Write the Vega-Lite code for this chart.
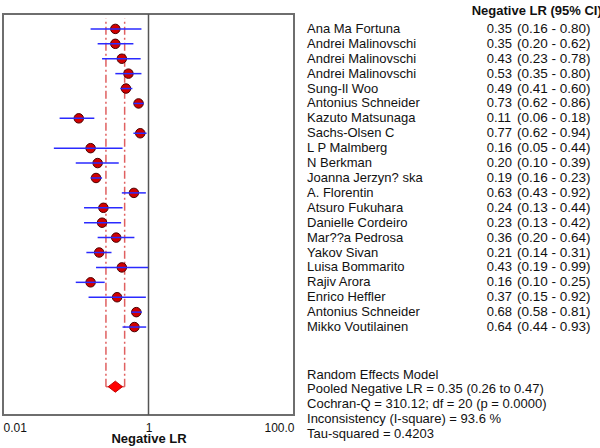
{
  "$schema": "https://vega.github.io/schema/vega-lite/v6.json",
  "autosize": {"type": "none"},
  "width": 291,
  "height": 401,
  "padding": {"left": 3, "top": 14, "right": 306, "bottom": 33},
  "background": "white",
  "config": {
    "view": {"stroke": "#6e6e6e", "strokeWidth": 2},
    "font": "Liberation Sans",
    "text": {"font": "Liberation Sans", "fontSize": 13, "color": "#111111"}
  },
  "datasets": {
    "studies": [
      {"row": 0, "name": "Ana Ma Fortuna", "lr": 0.35, "lo": 0.16, "hi": 0.80},
      {"row": 1, "name": "Andrei Malinovschi", "lr": 0.35, "lo": 0.20, "hi": 0.62},
      {"row": 2, "name": "Andrei Malinovschi", "lr": 0.43, "lo": 0.23, "hi": 0.78},
      {"row": 3, "name": "Andrei Malinovschi", "lr": 0.53, "lo": 0.35, "hi": 0.80},
      {"row": 4, "name": "Sung-Il Woo", "lr": 0.49, "lo": 0.41, "hi": 0.60},
      {"row": 5, "name": "Antonius Schneider", "lr": 0.73, "lo": 0.62, "hi": 0.86},
      {"row": 6, "name": "Kazuto Matsunaga", "lr": 0.11, "lo": 0.06, "hi": 0.18},
      {"row": 7, "name": "Sachs-Olsen C", "lr": 0.77, "lo": 0.62, "hi": 0.94},
      {"row": 8, "name": "L P Malmberg", "lr": 0.16, "lo": 0.05, "hi": 0.44},
      {"row": 9, "name": "N Berkman", "lr": 0.20, "lo": 0.10, "hi": 0.39},
      {"row": 10, "name": "Joanna Jerzyn? ska", "lr": 0.19, "lo": 0.16, "hi": 0.23},
      {"row": 11, "name": "A. Florentin", "lr": 0.63, "lo": 0.43, "hi": 0.92},
      {"row": 12, "name": "Atsuro Fukuhara", "lr": 0.24, "lo": 0.13, "hi": 0.44},
      {"row": 13, "name": "Danielle Cordeiro", "lr": 0.23, "lo": 0.13, "hi": 0.42},
      {"row": 14, "name": "Mar??a Pedrosa", "lr": 0.36, "lo": 0.20, "hi": 0.64},
      {"row": 15, "name": "Yakov Sivan", "lr": 0.21, "lo": 0.14, "hi": 0.31},
      {"row": 16, "name": "Luisa Bommarito", "lr": 0.43, "lo": 0.19, "hi": 0.99},
      {"row": 17, "name": "Rajiv Arora", "lr": 0.16, "lo": 0.10, "hi": 0.25},
      {"row": 18, "name": "Enrico Heffler", "lr": 0.37, "lo": 0.15, "hi": 0.92},
      {"row": 19, "name": "Antonius Schneider", "lr": 0.68, "lo": 0.58, "hi": 0.81},
      {"row": 20, "name": "Mikko Voutilainen", "lr": 0.64, "lo": 0.44, "hi": 0.93}
    ],
    "pooled": [
      {"row": 24, "lr": 0.35, "lo": 0.26, "hi": 0.47}
    ]
  },
  "layer": [
    {
      "data": {"values": [{"v": 1}]},
      "mark": {"type": "rule", "color": "#555555", "strokeWidth": 1.5},
      "encoding": {
        "x": {"field": "v", "type": "quantitative", "scale": {"type": "log", "domain": [0.01, 100]},
          "axis": {"values": [0.01, 1, 100], "labelExpr": "datum.value >= 100 ? '100.0' : datum.value < 0.1 ? '0.01' : '1'", "labelFlush": true, "ticks": false, "domain": false, "grid": false, "labelFontSize": 12, "labelColor": "#111111", "labelPadding": 7, "title": "Negative LR", "titleFontSize": 13, "titleFontWeight": "bold", "titleColor": "#111111", "titlePadding": -1, "labelFont": "Liberation Sans", "titleFont": "Liberation Sans"}}
      }
    },
    {
      "data": {"name": "pooled"},
      "mark": {"type": "rule", "color": "#e06060", "strokeWidth": 1.5, "strokeDash": [8, 3, 2, 3]},
      "encoding": {
        "x": {"field": "lo", "type": "quantitative", "scale": {"type": "log", "domain": [0.01, 100]}},
        "y": {"field": "row", "type": "quantitative", "scale": {"domain": [-1, 25.9], "reverse": true, "nice": false, "zero": false}, "axis": null},
        "y2": {"datum": -0.7}
      }
    },
    {
      "data": {"name": "pooled"},
      "mark": {"type": "rule", "color": "#e06060", "strokeWidth": 1.5, "strokeDash": [8, 3, 2, 3]},
      "encoding": {
        "x": {"field": "hi", "type": "quantitative", "scale": {"type": "log", "domain": [0.01, 100]}},
        "y": {"field": "row", "type": "quantitative"},
        "y2": {"datum": -0.7}
      }
    },
    {
      "data": {"name": "pooled"},
      "mark": {"type": "rule", "color": "#e06060", "strokeWidth": 1.5},
      "encoding": {
        "x": {"field": "lo", "type": "quantitative", "scale": {"type": "log", "domain": [0.01, 100]}},
        "x2": {"field": "hi"},
        "y": {"field": "row", "type": "quantitative"}
      }
    },
    {
      "data": {"name": "studies"},
      "mark": {"type": "point", "shape": "circle", "filled": true, "size": 90, "fill": "#d00000", "stroke": "#4a0000", "strokeWidth": 1, "opacity": 1},
      "encoding": {
        "x": {"field": "lr", "type": "quantitative", "scale": {"type": "log", "domain": [0.01, 100]}},
        "y": {"field": "row", "type": "quantitative"}
      }
    },
    {
      "data": {"name": "studies"},
      "mark": {"type": "rule", "color": "#2a2aff", "strokeWidth": 1.5},
      "encoding": {
        "x": {"field": "lo", "type": "quantitative", "scale": {"type": "log", "domain": [0.01, 100]}},
        "x2": {"field": "hi"},
        "y": {"field": "row", "type": "quantitative"}
      }
    },
    {
      "data": {"name": "pooled"},
      "mark": {"type": "point", "shape": "M-1,0L0,-0.78L1,0L0,0.78Z", "filled": true, "size": 200, "fill": "#ff0000", "stroke": "#c00000", "strokeWidth": 1, "opacity": 1},
      "encoding": {
        "x": {"field": "lr", "type": "quantitative", "scale": {"type": "log", "domain": [0.01, 100]}},
        "y": {"field": "row", "type": "quantitative"}
      }
    },
    {
      "data": {"name": "studies"},
      "mark": {"type": "text", "align": "left", "baseline": "middle"},
      "encoding": {
        "x": {"datum": 151, "type": "quantitative"},
        "y": {"field": "row", "type": "quantitative"},
        "text": {"field": "name"}
      }
    },
    {
      "data": {"name": "studies"},
      "mark": {"type": "text", "align": "left", "baseline": "middle"},
      "encoding": {
        "x": {"datum": 44500, "type": "quantitative"},
        "y": {"field": "row", "type": "quantitative"},
        "text": {"field": "lr", "format": ".2f"}
      }
    },
    {
      "data": {"name": "studies"},
      "transform": [
        {"calculate": "'(' + format(datum.lo, '.2f') + ' - ' + format(datum.hi, '.2f') + ')'", "as": "ci"}
      ],
      "mark": {"type": "text", "align": "left", "baseline": "middle", "fontSize": 13.5},
      "encoding": {
        "x": {"datum": 116000, "type": "quantitative"},
        "y": {"field": "row", "type": "quantitative"},
        "text": {"field": "ci"}
      }
    },
    {
      "data": {"values": [{"t": "Negative LR (95% CI)"}]},
      "mark": {"type": "text", "align": "left", "baseline": "middle", "fontWeight": "bold"},
      "encoding": {
        "x": {"datum": 27700, "type": "quantitative"},
        "y": {"datum": -1.2, "type": "quantitative"},
        "text": {"field": "t"}
      }
    },
    {
      "data": {"values": [{"lines": ["Random Effects Model", "Pooled Negative LR = 0.35 (0.26 to 0.47)", "Cochran-Q = 310.12; df =  20 (p = 0.0000)", "Inconsistency (I-square) = 93.6 %", "Tau-squared = 0.4203"]}]},
      "mark": {"type": "text", "align": "left", "baseline": "middle", "lineHeight": 14.7},
      "encoding": {
        "x": {"datum": 151, "type": "quantitative"},
        "y": {"datum": 23.2, "type": "quantitative"},
        "text": {"field": "lines"}
      }
    }
  ]
}
